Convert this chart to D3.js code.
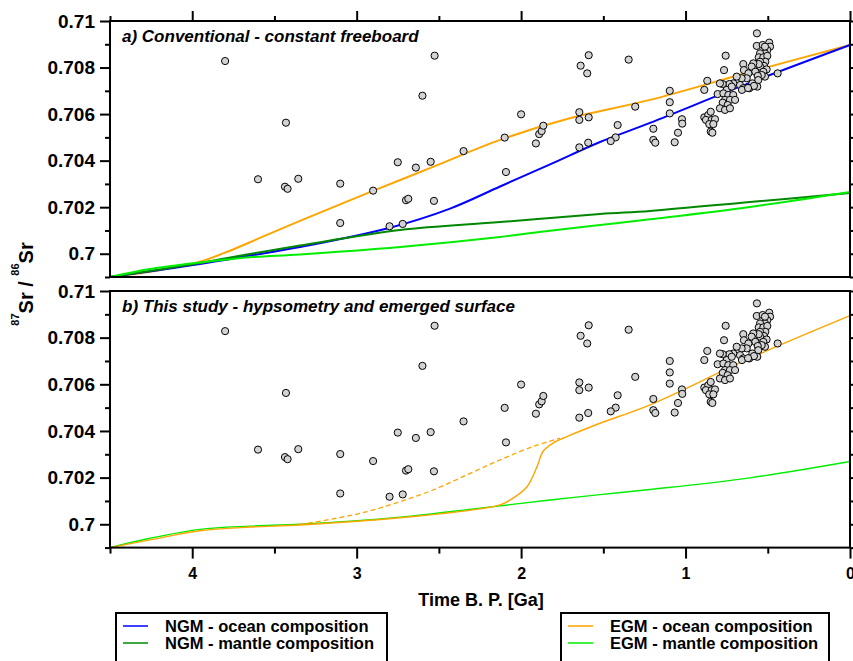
<!DOCTYPE html>
<html lang="en">
<head>
    <meta charset="UTF-8">
    <title>Sr isotope evolution</title>
    <script src="https://cdnjs.cloudflare.com/ajax/libs/d3/7.8.5/d3.min.js"></script>
    <style>
        body { margin: 0; background: #fff; }
        svg text { font-family: "Liberation Sans", Arial, Helvetica, sans-serif; font-weight: bold; fill: #000; }
    </style>
</head>
<body>
<div id="chart"></div>
<script>
    // model curves, [age Ga, 87Sr/86Sr]
    var ngmOceanA = [[4.5,0.699],[3.953,0.69956],[3.649,0.69992],[3.345,0.70029],[2.797,0.70112],[2.432,0.70194],
        [2.128,0.70289],[1.824,0.70384],[1.52,0.7048],[1.216,0.70562],[0.608,0.70735],[0,0.70897]];
    var ngmMantleA = [[4.5,0.699],[3.953,0.6996],[3.649,0.69999],[3.345,0.70035],[2.736,0.70102],[2.128,0.70136],
        [1.52,0.70171],[1.216,0.70184],[0.608,0.70222],[0,0.70261]];
    var egmOceanA = [[4.5,0.699],[4.257,0.69922],[3.953,0.69966],[3.771,0.70013],[3.588,0.70068],[3.345,0.70141],
        [2.901,0.7027],[2.536,0.70373],[2.128,0.70489],[1.721,0.70579],[1.216,0.70661],[0.608,0.70781],[0,0.70897]];
    var egmMantleA = [[4.5,0.699],[4.257,0.69934],[3.953,0.69962],[3.649,0.69985],[3.345,0.69997],[2.736,0.70029],
        [2.128,0.70072],[1.824,0.70099],[1.52,0.70123],[1.216,0.70148],[0.608,0.70201],[0,0.70265]];

    var egmMantleB = [[4.5,0.699],[4.257,0.6994],[3.953,0.69978],[3.649,0.69992],[3.345,0.7],[2.736,0.7003],
        [2.25,0.70069],[1.824,0.70104],[1.52,0.70127],[1.216,0.70149],[0.608,0.70199],[0,0.70269]];
    var egmOceanB = [[4.5,0.699],[4.257,0.69933],[3.953,0.69972],[3.649,0.69988],[3.345,0.69997],[2.736,0.70028],
        [2.25,0.70066],[2.128,0.70083],[2.049,0.70112],[1.964,0.70161],[1.903,0.70247],[1.867,0.70312],
        [1.806,0.70348],[1.721,0.70376],[1.52,0.70433],[1.216,0.70512],[0.608,0.70712],[0,0.70894]];
    var egmOceanDashB = [[3.345,0.69999],[3.144,0.70023],[2.937,0.70054],[2.736,0.70097],[2.536,0.70147],
        [2.329,0.70212],[2.128,0.70276],[1.928,0.70333],[1.764,0.70369]];

    // measured samples
    var sampleAge = [3.80,3.43,3.60,3.436,3.42,3.355,3.10,3.10,2.90,2.80,2.72,2.75,2.70,2.686,2.64,2.60,2.55,2.526,2.53,
        2.35,2.10,2.092,2.00,1.91,1.89,1.875,1.865,1.646,1.646,1.589,1.646,1.592,1.638,1.589,1.598,1.346,1.306,1.413,
        1.425,1.455,1.196,1.196,1.184,1.096,1.096,1.096,1.046,1.066,1.022,1.020,0.886,0.868,0.756,0.766,0.566,0.440,
        0.567,0.531,0.491,0.486,0.503,0.517,0.547,0.555,0.527,0.503,0.515,0.547,0.523,0.547,0.507,0.527,0.517,0.537,
        0.555,0.588,0.598,0.576,0.561,0.558,0.564,0.594,0.649,0.645,0.618,0.628,0.659,0.669,0.649,0.612,0.584,0.689,
        0.710,0.734,0.774,0.791,0.750,0.719,0.805,0.770,0.740,0.710,0.760,0.730,0.699,0.774,0.744,0.791,0.760,0.730,
        0.886,0.862,0.847,0.876,0.841,0.821,0.856,0.831,0.847,0.837,0.657,0.620,0.517];
    var sampleSr = [0.70828,0.70563,0.70320,0.70288,0.70279,0.70322,0.70301,0.70132,0.70271,0.70118,0.70128,0.70393,
        0.70230,0.70236,0.70370,0.70679,0.70395,0.70851,0.70227,0.70441,0.70499,0.70351,0.70599,0.70474,0.70514,
        0.70527,0.70550,0.70608,0.70575,0.70586,0.70457,0.70477,0.70808,0.70853,0.70775,0.70834,0.70632,0.70553,
        0.70500,0.70484,0.70537,0.70489,0.70477,0.70700,0.70651,0.70603,0.70520,0.70479,0.70578,0.70559,0.70704,
        0.70743,0.70851,0.70789,0.70947,0.70775,
        0.70893,0.70897,0.70907,0.70890,0.70875,0.70861,0.70861,0.70844,0.70844,0.70850,0.70825,0.70825,0.70807,
        0.70804,0.70792,0.70782,0.70761,0.70768,0.70815,0.70818,0.70804,0.70782,0.70764,0.70746,0.70718,0.70732,
        0.70815,0.70789,0.70775,0.70754,0.70754,0.70725,0.70711,0.70711,0.70721,0.70761,0.70732,0.70729,0.70729,
        0.70732,0.70704,0.70718,0.70686,0.70689,0.70682,0.70682,0.70661,0.70661,0.70661,0.70649,0.70639,0.70625,
        0.70618,0.70625,0.70586,0.70596,0.70610,0.70575,0.70575,0.70578,0.70557,0.70557,0.70525,0.70520,0.70704,
        0.70712,0.70890];

    var majorX = [4, 3, 2, 1, 0];
    var minorX = [4.5, 3.5, 2.5, 1.5, 0.5];
    var majorY = [0.7, 0.702, 0.704, 0.706, 0.708, 0.71];
    var minorY = [0.699, 0.701, 0.703, 0.705, 0.707, 0.709];

    var colors = {ngmOcean: "#0000ff", ngmMantle: "#008800", egmOcean: "#ffa500", egmMantle: "#00ee00"};

    var width = 853, height = 661;

    var svg = d3.select("#chart").append("svg")
        .attr("width", width)
        .attr("height", height);

    var x = d3.scaleLinear().domain([4.5, 0]).range([110, 850]);

    var panels = [
        {top: 21, bottom: 277, title: "a) Conventional - constant freeboard", lw: 2, lines: [
            {data: egmOceanA, color: colors.egmOcean},
            {data: ngmOceanA, color: colors.ngmOcean},
            {data: ngmMantleA, color: colors.ngmMantle},
            {data: egmMantleA, color: colors.egmMantle}
        ]},
        {top: 291, bottom: 547.6, title: "b) This study - hypsometry and emerged surface", lw: 1.4, lines: [
            {data: egmMantleB, color: colors.egmMantle},
            {data: egmOceanDashB, color: colors.egmOcean, dash: "5,3"},
            {data: egmOceanB, color: colors.egmOcean}
        ]}
    ];

    var samples = sampleAge.map(function (t, i) { return [t, sampleSr[i]]; });

    panels.forEach(function (p, pi) {
        var y = d3.scaleLinear().domain([0.699, 0.71]).range([p.bottom, p.top]);
        var g = svg.append("g");

        var line = d3.line()
            .x(function (d) { return x(d[0]); })
            .y(function (d) { return y(d[1]); })
            .curve(d3.curveCatmullRom.alpha(0.5));

        p.lines.forEach(function (l) {
            g.append("path")
                .datum(l.data)
                .attr("d", line)
                .attr("fill", "none")
                .attr("stroke", l.color)
                .attr("stroke-width", l.dash ? 1.3 : p.lw)
                .attr("stroke-dasharray", l.dash || null);
        });

        g.selectAll("circle.pt")
            .data(samples)
            .enter().append("circle")
            .attr("class", "pt")
            .attr("cx", function (d) { return x(d[0]); })
            .attr("cy", function (d) { return y(d[1]); })
            .attr("r", 3.6)
            .attr("fill", "#d3d3d3")
            .attr("stroke", "#000")
            .attr("stroke-width", 1);

        // axes
        var fmt = d3.format(".3~f");
        var left = g.append("g").attr("transform", "translate(110,0)")
            .call(d3.axisLeft(y).tickValues(majorY).tickSize(10).tickPadding(5).tickFormat(fmt));
        g.append("g").attr("transform", "translate(110,0)")
            .call(d3.axisLeft(y).tickValues(minorY).tickSize(5).tickFormat(""));
        g.append("g").attr("transform", "translate(850,0)")
            .call(d3.axisRight(y).tickValues(majorY.concat(minorY)).tickSize(8).tickFormat(""));
        left.selectAll("text").style("font-size", "19px").style("font-family", null);

        if (pi === 0) {
            g.append("g").attr("transform", "translate(0," + p.top + ")")
                .call(d3.axisTop(x).tickValues(majorX).tickSize(10).tickFormat(""));
            g.append("g").attr("transform", "translate(0," + p.top + ")")
                .call(d3.axisTop(x).tickValues(minorX).tickSize(5).tickFormat(""));
        } else {
            var bot = g.append("g").attr("transform", "translate(0," + p.bottom + ")")
                .call(d3.axisBottom(x).tickValues(majorX).tickSize(11).tickPadding(9).tickFormat(d3.format("d")));
            g.append("g").attr("transform", "translate(0," + p.bottom + ")")
                .call(d3.axisBottom(x).tickValues(minorX).tickSize(6).tickFormat(""));
            bot.selectAll("text").style("font-size", "16px");
        }

        g.selectAll(".domain").remove();
        g.selectAll(".tick line").attr("stroke", "#000").attr("stroke-width", 2);

        g.append("rect")
            .attr("x", 110).attr("y", p.top)
            .attr("width", 740).attr("height", p.bottom - p.top)
            .attr("fill", "none").attr("stroke", "#000").attr("stroke-width", 2);

        g.append("text")
            .attr("x", 122).attr("y", p.top + 21)
            .style("font-size", "17px").style("font-style", "italic")
            .text(p.title);
    });

    // y axis label
    var yl = svg.append("text")
        .attr("transform", "translate(33,284) rotate(-90)")
        .attr("text-anchor", "middle")
        .style("font-size", "20px");
    yl.append("tspan").attr("dy", -14).style("font-size", "11px").text("87");
    yl.append("tspan").attr("dy", 14).text("Sr / ");
    yl.append("tspan").attr("dy", -14).style("font-size", "11px").text("86");
    yl.append("tspan").attr("dy", 14).text("Sr");

    svg.append("text")
        .attr("x", 481).attr("y", 606)
        .attr("text-anchor", "middle")
        .style("font-size", "18px")
        .text("Time B. P. [Ga]");

    // legends
    var legends = [
        {x0: 116, x1: 387, items: [["NGM - ocean composition", colors.ngmOcean], ["NGM - mantle composition", colors.ngmMantle]]},
        {x0: 561, x1: 829, items: [["EGM - ocean composition", colors.egmOcean], ["EGM - mantle composition", colors.egmMantle]]}
    ];
    legends.forEach(function (lg) {
        var lgG = svg.append("g");
        lgG.append("rect")
            .attr("x", lg.x0).attr("y", 613)
            .attr("width", lg.x1 - lg.x0).attr("height", 70)
            .attr("fill", "#fff").attr("stroke", "#000").attr("stroke-width", 2);
        lg.items.forEach(function (it, i) {
            var yy = 626 + i * 17;
            lgG.append("line")
                .attr("x1", lg.x0 + 7).attr("x2", lg.x0 + 32)
                .attr("y1", yy).attr("y2", yy)
                .attr("stroke", it[1]).attr("stroke-width", 1.5);
            lgG.append("text")
                .attr("x", lg.x0 + 49).attr("y", yy + 5.5)
                .style("font-size", "16.5px")
                .text(it[0]);
        });
    });
</script>
</body>
</html>
